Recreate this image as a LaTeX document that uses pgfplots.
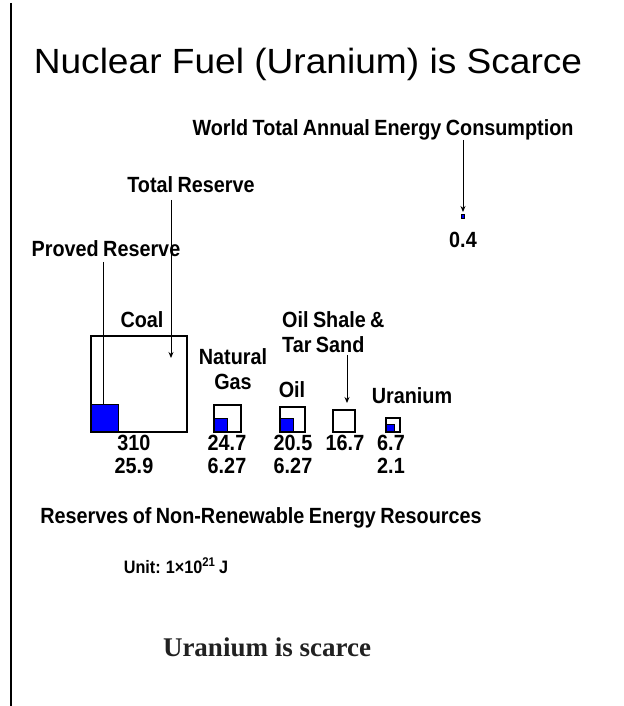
\documentclass[border=0pt]{standalone}
\usepackage{fontspec}
\setmainfont{Liberation Sans}
\newfontfamily\nb[FakeStretch=0.9, WordSpace=0.8]{Liberation Sans Bold}
\newfontfamily\ttl[FakeStretch=1.06]{Liberation Sans}
\newfontfamily\serifb{Liberation Serif Bold}
\usepackage{pgfplots}
\pgfplotsset{compat=1.18}
\usepackage{pgfplotstable}
\usetikzlibrary{arrows.meta}

\pgfdeclareplotmark{sqbl}{\pgfpathrectangle{\pgfpointorigin}{\pgfpoint{\side bp}{\side bp}}\pgfusepathqstroke}
\pgfdeclareplotmark{sqfill}{\pgfpathrectangle{\pgfpointorigin}{\pgfpoint{\side bp}{\side bp}}\pgfusepathqfillstroke}

% x, y = bottom-left corner of each square (bp); side ~ sqrt(value)
\pgfplotstableread{
x y total
91 274 310
214 274 24.7
280 274 20.5
333 274 16.7
386 274 6.7
}\totalres
\pgfplotstableread{
x y proved
91 274 25.9
214 274 6.27
280 274 6.27
386 274 2.1
}\provedres
\pgfplotstableread{
x y consumption
461 488 0.4
}\worlduse

\newcommand{\lbl}[1]{\fontsize{22bp}{24bp}\nb #1}

\begin{document}
\begin{tikzpicture}
\useasboundingbox (0,0) rectangle (624bp,706bp);
\begin{axis}[at={(0,0)}, anchor=south west, x=1bp, y=1bp,
  xmin=0, xmax=624, ymin=0, ymax=706, hide axis, clip=false]

% proved reserves (blue)
\addplot[scatter, only marks, mark=sqfill,
  scatter/use mapped color={draw=black, fill=blue},
  mark options={line width=0.6bp},
  visualization depends on={5.45*sqrt(\thisrow{proved})\as\side}]
  table[x=x,y=y]{\provedres};
% world annual consumption
\addplot[scatter, only marks, mark=sqfill,
  scatter/use mapped color={draw=black, fill=blue},
  mark options={line width=0.6bp},
  visualization depends on={5.45*sqrt(\thisrow{consumption})\as\side}]
  table[x=x,y=y]{\worlduse};
% total reserves (outline)
\addplot[scatter, only marks, mark=sqbl,
  scatter/use mapped color={draw=black},
  mark options={line width=2.2bp},
  visualization depends on={5.45*sqrt(\thisrow{total})\as\side}]
  table[x=x,y=y]{\totalres};

% left rule
\draw[line width=2bp] (axis cs:11,703) -- (axis cs:11,0);

% arrows
\draw[line width=0.9bp, -{Stealth[length=6bp,width=5bp]}] (axis cs:463,566) -- (axis cs:463,494);
\draw[line width=0.9bp, -{Stealth[length=6bp,width=5bp]}] (axis cs:171,506) -- (axis cs:171,348);
\draw[line width=0.9bp, -{Stealth[length=6bp,width=5bp]}] (axis cs:103,444) -- (axis cs:103,293);
\draw[line width=0.9bp, -{Stealth[length=6bp,width=5bp]}] (axis cs:347,351) -- (axis cs:347,303);

% title
\node[anchor=base, inner sep=0pt] at (axis cs:308,632) {\fontsize{35bp}{40bp}\ttl Nuclear Fuel (Uranium) is Scarce};

% labels
\node[anchor=base, inner sep=0pt] at (axis cs:383,570) {\lbl{World Total Annual Energy Consumption}};
\node[anchor=base, inner sep=0pt] at (axis cs:191,513) {\lbl{Total Reserve}};
\node[anchor=base, inner sep=0pt] at (axis cs:106,449) {\lbl{Proved Reserve}};
\node[anchor=base, inner sep=0pt] at (axis cs:463,458) {\lbl{0.4}};
\node[anchor=base, inner sep=0pt] at (axis cs:142,379) {\lbl{Coal}};
\node[anchor=base, inner sep=0pt] at (axis cs:233,342) {\lbl{Natural}};
\node[anchor=base, inner sep=0pt] at (axis cs:233,317) {\lbl{Gas}};
\node[anchor=base, inner sep=0pt] at (axis cs:292,309) {\lbl{Oil}};
\node[anchor=base west, inner sep=0pt] at (axis cs:282,379) {\lbl{Oil Shale \&}};
\node[anchor=base west, inner sep=0pt] at (axis cs:282,354) {\lbl{Tar Sand}};
\node[anchor=base, inner sep=0pt] at (axis cs:412,303) {\lbl{Uranium}};

% values
\node[anchor=base, inner sep=0pt] at (axis cs:134,256) {\lbl{310}};
\node[anchor=base, inner sep=0pt] at (axis cs:134,233) {\lbl{25.9}};
\node[anchor=base, inner sep=0pt] at (axis cs:227,256) {\lbl{24.7}};
\node[anchor=base, inner sep=0pt] at (axis cs:227,233) {\lbl{6.27}};
\node[anchor=base, inner sep=0pt] at (axis cs:293,256) {\lbl{20.5}};
\node[anchor=base, inner sep=0pt] at (axis cs:293,233) {\lbl{6.27}};
\node[anchor=base, inner sep=0pt] at (axis cs:345,256) {\lbl{16.7}};
\node[anchor=base, inner sep=0pt] at (axis cs:391,256) {\lbl{6.7}};
\node[anchor=base, inner sep=0pt] at (axis cs:391,233) {\lbl{2.1}};

% subtitle & unit
\node[anchor=base, inner sep=0pt] at (axis cs:261,183) {\lbl{Reserves of Non-Renewable Energy Resources}};
\node[anchor=base, inner sep=0pt] at (axis cs:176,133) {\fontsize{18bp}{20bp}\nb Unit: 1×10\textsuperscript{21} J};

% caption
\node[anchor=base, inner sep=0pt, text=black!87] at (axis cs:267,50) {\fontsize{27bp}{30bp}\serifb Uranium is scarce};
\end{axis}
\end{tikzpicture}
\end{document}
